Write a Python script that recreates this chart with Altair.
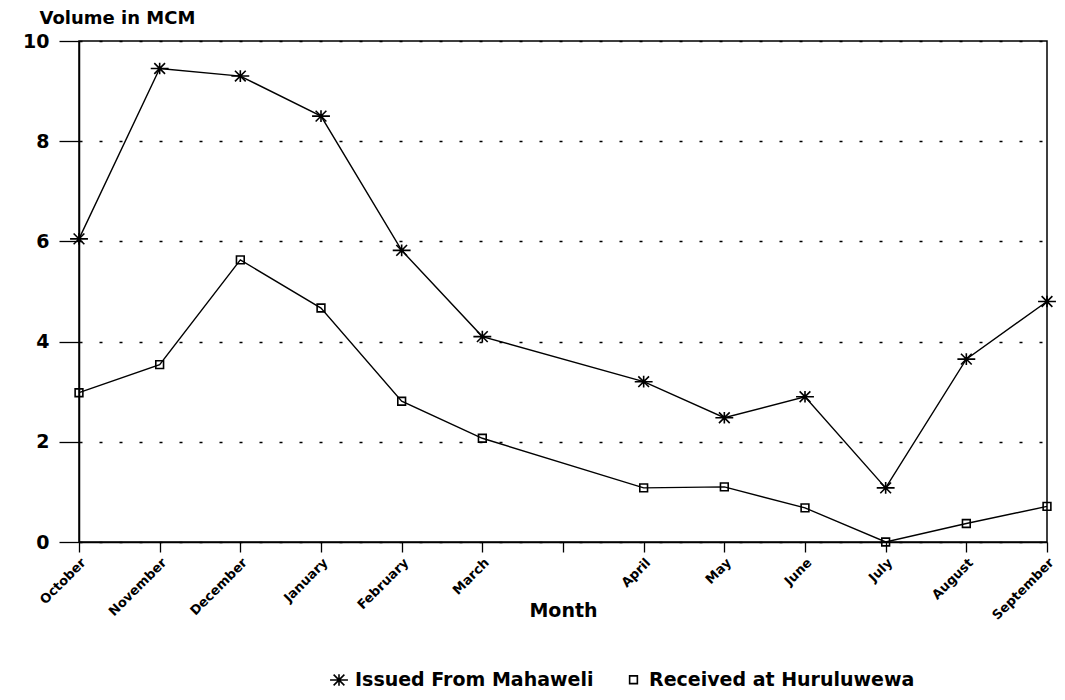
import json
import altair as alt
import pandas as pd

months = ["October", "November", "December", "January", "February", "March",
          "April", "May", "June", "July", "August", "September"]
month_slot = [0, 1, 2, 3, 4, 5, 7, 8, 9, 10, 11, 12]
axis_labels = ["October", "November", "December", "January", "February", "March",
               "", "April", "May", "June", "July", "August", "September"]
issued = [6.05, 9.45, 9.3, 8.5, 5.82, 4.1, 3.2, 2.48, 2.9, 1.08, 3.65, 4.8]
received = [2.98, 3.54, 5.63, 4.67, 2.81, 2.07, 1.08, 1.1, 0.68, 0.0, 0.37, 0.71]
series_names = ["Issued From Mahaweli", "Received at Huruluwewa"]
y_ticks = [0, 2, 4, 6, 8, 10]

rows = []
for name, vals in zip(series_names, [issued, received]):
    for m, s, v in zip(months, month_slot, vals):
        rows.append({"series": name, "month": m, "slot": s, "volume": v})
df = pd.DataFrame(rows)

STAR = "M-1,0L1,0M-0.6,-0.6L0.6,0.6M-0.6,0.6L0.6,-0.6M0,-0.65L0,0.65"
FONT = "DejaVu Sans"

x_enc = alt.X(
    "slot:Q",
    scale=alt.Scale(domain=[0, 12], nice=False, zero=False),
    axis=alt.Axis(
        values=list(range(13)),
        labelExpr=json.dumps(axis_labels) + "[datum.value]",
        labelAngle=315, labelAlign="right", labelBaseline="top",
        labelFont=FONT, labelFontSize=13, labelFontWeight="bold", labelColor="black",
        labelPadding=4, labelOverlap=False, labelFlush=False,
        title="Month", titleFont=FONT, titleFontSize=19, titleFontWeight="bold",
        titleColor="black", titleY=68, titleBaseline="middle",
        grid=False, tickSize=10, tickColor="black", tickWidth=1.3,
        domainColor="black", domainWidth=1.5,
    ),
)
y_enc = alt.Y(
    "volume:Q",
    scale=alt.Scale(domain=[0, 10], nice=False),
    axis=alt.Axis(
        values=y_ticks, format="d",
        labelFont=FONT, labelFontSize=19, labelFontWeight="bold", labelColor="black",
        labelPadding=10,
        title="Volume in MCM", titleFont=FONT, titleFontSize=18, titleFontWeight="bold",
        titleColor="black", titleAngle=0, titleAlign="left", titleBaseline="alphabetic",
        titleX=-40, titleY=-18,
        grid=True, gridColor="black", gridDash=[3, 17], gridWidth=1.3,
        tickSize=20, tickColor="black", tickWidth=1.3,
        domainColor="black", domainWidth=1.5,
    ),
)

legend_cfg = dict(title=None, orient="none", legendX=250, legendY=629, direction="horizontal")

lines = alt.Chart(df).mark_line(color="black", strokeWidth=1.4).encode(
    x=x_enc, y=y_enc, detail="series:N", order="slot:Q"
)

points = alt.Chart(df).mark_point(filled=False, strokeWidth=1.6, opacity=1).encode(
    x=x_enc, y=y_enc,
    shape=alt.Shape("series:N", scale=alt.Scale(domain=series_names, range=[STAR, "square"]),
                    legend=alt.Legend(**legend_cfg)),
    size=alt.Size("series:N", scale=alt.Scale(domain=series_names, range=[320, 60]),
                  legend=alt.Legend(**legend_cfg)),
    color=alt.Color("series:N", scale=alt.Scale(domain=series_names, range=["black", "black"]),
                    legend=alt.Legend(**legend_cfg)),
)

chart = alt.layer(lines, points).properties(
    width=968, height=501,
    autosize=alt.AutoSizeParams(type="none"),
    padding={"left": 71, "top": 33, "right": 10, "bottom": 150},
).configure(
    font=FONT, background="white"
).configure_view(
    stroke="black", strokeWidth=1.5
).configure_legend(
    labelFont=FONT, labelFontSize=19, labelFontWeight="bold", labelColor="black",
    symbolStrokeWidth=1.6, symbolStrokeColor="black", columnPadding=30, labelLimit=500,
    symbolSize=200, labelOffset=6,
)

chart.save("out.html", embed_options={"renderer": "svg", "actions": False})
